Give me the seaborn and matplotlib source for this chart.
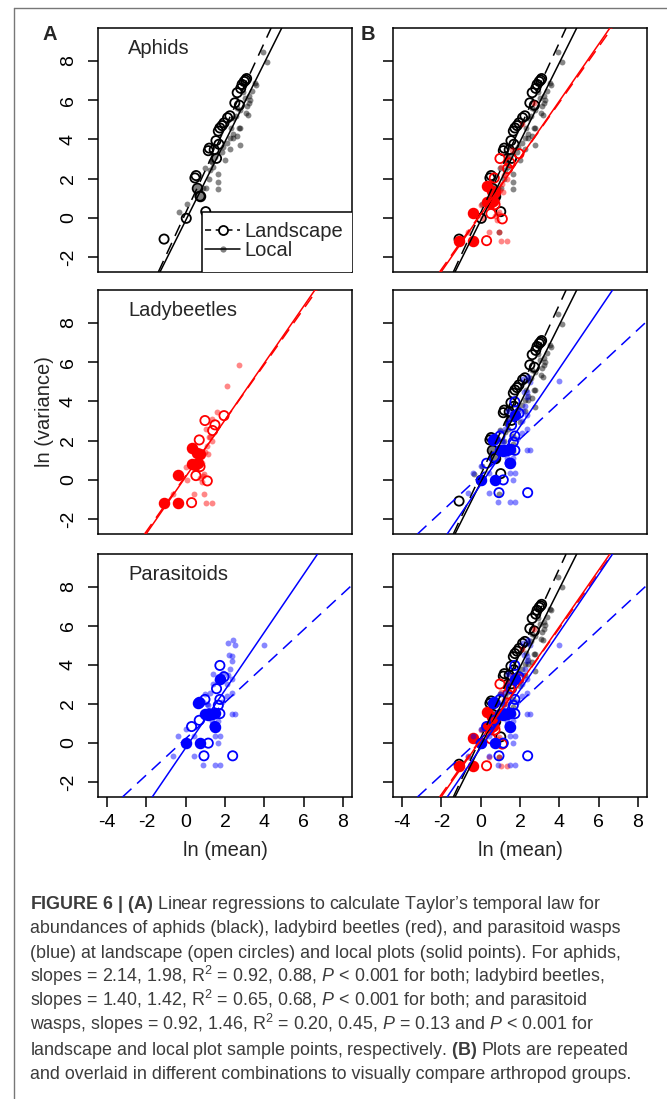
import matplotlib
matplotlib.use("Agg")
import matplotlib.pyplot as plt
from matplotlib.lines import Line2D
from matplotlib.patches import Rectangle
import seaborn as sns

# ── values (ln mean, ln variance) ────────────────────────────────────────────

# aphids: landscape (open circles), local (small dots), overlapped (filled)
aphid_land_x = [-1.10, 0.03, 0.73, 0.53, 1.02, 1.20, 1.45, 1.57, 1.54, 1.69, 1.66, 1.74,
                1.85, 1.95, 2.13, 2.25, 2.50, 2.73, 2.62, 2.80, 2.87, 2.98, 3.05, 3.10, 0.47, 1.15]
aphid_land_y = [-1.09, -0.03, 1.10, 2.15, 0.31, 3.55, 3.47, 3.03, 3.93, 3.75, 4.42, 4.58,
                4.70, 4.84, 5.10, 5.20, 5.86, 5.74, 6.38, 6.60, 6.80, 6.95, 7.02, 7.10, 2.03, 3.42]
aphid_local_x = [-0.34, 0.05, 0.90, 1.05, 0.98, 1.23, 1.32, 1.66, 1.66, 1.66, 1.90, 2.25,
                 2.76, 1.83, 1.98, 2.10, 2.25, 2.39, 2.62, 2.76, 2.30, 2.42, 2.70, 2.76,
                 2.40, 3.18, 3.07, 3.20, 3.27, 3.20, 3.57, 3.52, 3.95, 4.12, 0.93, 1.50,
                 1.30, 2.90, 2.60, 3.00, 2.55, 3.35, 3.10, 1.20, 1.40]
aphid_local_y = [0.31, 0.72, 1.50, 1.50, 2.52, 2.42, 2.86, 2.23, 1.84, 1.47, 3.60, 3.49,
                 3.71, 3.37, 2.94, 3.80, 4.05, 4.27, 4.16, 4.58, 4.60, 4.05, 4.56, 5.48,
                 5.10, 5.26, 5.33, 5.85, 6.03, 6.20, 6.79, 6.86, 8.48, 7.97, -0.71, 3.10,
                 2.90, 6.40, 5.60, 6.10, 5.20, 6.45, 5.70, 2.00, 2.60]
aphid_big_x = [0.56, 0.73]
aphid_big_y = [1.50, 1.10]

# ladybeetles
lady_land_x = [1.95, 0.98, 1.49, 1.37, 0.69, 0.52, 1.10, 0.30, 0.73]
lady_land_y = [3.27, 3.02, 2.80, 2.51, 2.03, 0.21, -0.06, -1.17, 0.67]
lady_local_x = [2.73, 2.12, 1.57, 1.32, 1.02, 1.20, 1.32, 1.07, 1.15, 0.02, 0.05, 0.73,
                0.90, -0.66, 0.42, 0.93, 1.02, 1.32, 0.81, 0.95, 0.81, 1.24, 0.56, 1.00, 0.70]
lady_local_y = [5.86, 4.79, 3.43, 3.10, 2.59, 2.20, 2.00, 1.70, 1.31, 0.64, 0.00, 0.10,
                0.19, -0.72, -0.72, -0.72, -1.17, -1.17, -0.10, 0.30, 0.87, 2.20, 1.35, 1.40, 1.00]
lady_big_x = [-1.10, -0.38, -0.38, 0.30, 0.56, 0.73, 0.30, 0.47, 0.62]
lady_big_y = [-1.17, -1.17, 0.23, 1.60, 1.35, 1.30, 0.81, 0.75, 0.85]

# parasitoids
para_land_x = [1.74, 1.95, 1.57, 0.98, 1.66, 1.74, 0.30, 0.69, 1.15, 0.93, 2.39, 1.49, 1.20, 1.74]
para_land_y = [3.97, 3.39, 2.78, 2.23, 1.93, 1.50, 0.84, 1.16, -0.01, -0.66, -0.66, 0.84, 1.50, 2.23]
para_local_x = [2.17, 2.39, 2.50, 3.98, 2.22, 2.34, 2.34, 1.40, 2.25, 2.17, 2.34, 1.40, 2.08,
                0.98, 1.23, 2.34, 0.90, 1.15, 2.34, 2.50, 1.32, 1.66, 0.02, 1.40, -0.38,
                0.42, 1.49, 1.74, 1.66, -0.66, 0.42, 0.86, 1.49, 1.74, 2.10, 1.83, 1.60,
                1.90, 1.10]
para_local_y = [5.13, 5.26, 5.00, 5.04, 4.48, 4.45, 4.20, 3.51, 3.77, 3.50, 3.30, 3.00, 3.00,
                2.49, 2.57, 2.57, 2.10, 1.93, 1.50, 1.50, 1.13, 1.13, 0.70, 0.84, 0.33,
                0.33, 0.33, 0.33, 0.00, -0.66, -0.66, -1.12, -1.12, -1.12, 2.40, 2.10, 3.20,
                3.60, 2.00]
para_big_x = [1.74, 0.69, 0.98, 1.15, 1.32, 0.73, 0.02, 1.49, 0.62, 1.50]
para_big_y = [3.30, 2.10, 1.50, 1.45, 1.50, 0.00, -0.01, 0.84, 2.05, 1.55]

# fitted Taylor's law lines (slope, intercept)
aphid_fit_land, aphid_fit_local = (2.17, 0.25), (2.01, -0.14)
lady_fit_land, lady_fit_local = (1.42, 0.20), (1.45, 0.15)
para_fit_land, para_fit_local = (0.93, 0.22), (1.48, -0.25)

panel_titles = ["Aphids", "Ladybeetles", "Parasitoids"]
x_ticks = [-4, -2, 0, 2, 4, 6, 8]
y_ticks = [-2, 0, 2, 4, 6, 8]

caption_lines = [
    r"$\mathbf{FIGURE\ 6\ |\ (A)}$ Linear regressions to calculate Taylor’s temporal law for",
    "abundances of aphids (black), ladybird beetles (red), and parasitoid wasps",
    "(blue) at landscape (open circles) and local plots (solid points). For aphids,",
    r"slopes = 2.14, 1.98, R$^2$ = 0.92, 0.88, $\mathit{P}$ < 0.001 for both; ladybird beetles,",
    r"slopes = 1.40, 1.42, R$^2$ = 0.65, 0.68, $\mathit{P}$ < 0.001 for both; and parasitoid",
    r"wasps, slopes = 0.92, 1.46, R$^2$ = 0.20, 0.45, $\mathit{P}$ = 0.13 and $\mathit{P}$ < 0.001 for",
    r"landscape and local plot sample points, respectively. $\mathbf{(B)}$ Plots are repeated",
    "and overlaid in different combinations to visually compare arthropod groups.",
]

# ── layout / style ────────────────────────────────────────────────────────────

W, H = 667, 1099
XLIM = (-4.46, 8.46)
YLIM = (-2.77, 9.68)
FS = 14.5
LW = 1.1
DASH = (0, (8, 5))

GROUPS = {
    "aphids": dict(color="black", big="#808080",
                   land=(aphid_land_x, aphid_land_y), local=(aphid_local_x, aphid_local_y),
                   over=(aphid_big_x, aphid_big_y), fits=(aphid_fit_land, aphid_fit_local)),
    "lady": dict(color="#FF0000", big="#FF0000",
                 land=(lady_land_x, lady_land_y), local=(lady_local_x, lady_local_y),
                 over=(lady_big_x, lady_big_y), fits=(lady_fit_land, lady_fit_local)),
    "para": dict(color="#0000FF", big="#0000FF",
                 land=(para_land_x, para_land_y), local=(para_local_x, para_local_y),
                 over=(para_big_x, para_big_y), fits=(para_fit_land, para_fit_local)),
}

sns.set_theme(style="ticks")
plt.rcParams["font.family"] = ["Liberation Sans", "DejaVu Sans"]
plt.rcParams["axes.unicode_minus"] = False
plt.rcParams["mathtext.fontset"] = "custom"
plt.rcParams["mathtext.rm"] = "Liberation Sans"
plt.rcParams["mathtext.it"] = "Liberation Sans:italic"
plt.rcParams["mathtext.bf"] = "Liberation Sans:bold"


def _axes(fig, left, top, right, bottom):
    return fig.add_axes([left / W, 1 - bottom / H, (right - left) / W, (bottom - top) / H])


def _style(ax, ylabels=True, xlabels=False):
    ax.set_xlim(XLIM)
    ax.set_ylim(YLIM)
    ax.set_yticks(y_ticks)
    if xlabels:
        ax.set_xticks(x_ticks)
    else:
        ax.set_xticks([])
    if not ylabels:
        ax.set_yticklabels([])
    ax.tick_params(direction="out", length=7.2, width=LW, labelsize=FS - 0.5,
                   colors="black")
    ax.tick_params(axis="y", labelrotation=90, pad=8)
    ax.tick_params(axis="x", pad=5)
    for lab in ax.get_yticklabels():
        lab.set_va("center")
    for sp in ax.spines.values():
        sp.set_linewidth(LW)
        sp.set_color("black")
    ax.set_facecolor("white")


def _draw_group(ax, key):
    g = GROUPS[key]
    c = g["color"]
    sns.scatterplot(x=g["local"][0], y=g["local"][1], color=c, alpha=0.47, s=18,
                    linewidth=0, ax=ax, zorder=2, legend=False)
    sns.scatterplot(x=g["over"][0], y=g["over"][1], color=g["big"], edgecolor=c,
                    s=50, linewidth=1.2, ax=ax, zorder=2, legend=False)
    sns.scatterplot(x=g["land"][0], y=g["land"][1], facecolors="none", edgecolor=c,
                    s=44, linewidth=1.3, ax=ax, zorder=2, legend=False)
    (m_l, b_l), (m_s, b_s) = g["fits"]
    ax.axline((0, b_l), slope=m_l, color=c, lw=LW, ls=DASH, zorder=3)
    ax.axline((0, b_s), slope=m_s, color=c, lw=LW, ls="-", zorder=3)


fig = plt.figure(figsize=(W / 100, H / 100), dpi=100)

rows = [(28, 272), (290, 534), (554, 797)]
left_col, right_col = (98, 352), (393, 647)
a_groups = ["aphids", "lady", "para"]
b_groups = [["aphids", "lady"], ["aphids", "para"], ["aphids", "lady", "para"]]

for i, (top, bottom) in enumerate(rows):
    axa = _axes(fig, left_col[0], top, left_col[1], bottom)
    _draw_group(axa, a_groups[i])
    _style(axa, ylabels=True, xlabels=(i == 2))
    axa.text(30 / 254, 1 - 26 / 244, panel_titles[i], transform=axa.transAxes,
             fontsize=FS, ha="left", va="baseline")

    axb = _axes(fig, right_col[0], top, right_col[1], bottom)
    for key in b_groups[i]:
        _draw_group(axb, key)
    _style(axb, ylabels=False, xlabels=(i == 2))

    if i == 0:
        # legend box (white, clipped at the panel bottom like the original)
        box = Rectangle(((201.7 - 98) / 254, -0.2), 1.0, 0.2 + (272 - 211.7) / 244,
                        transform=axa.transAxes, facecolor="white", edgecolor="black",
                        lw=LW, zorder=4, clip_on=True)
        axa.add_patch(box)
        handles = [
            Line2D([], [], color="black", lw=LW, ls=(0, (4, 3)), marker="o",
                   mfc="white", mec="black", ms=6.5, mew=1.3),
            Line2D([], [], color="black", lw=LW, ls="-", marker="o",
                   mfc=(0, 0, 0, 0.5), mec="none", ms=4.5),
        ]
        leg = axa.legend(handles, ["Landscape", "Local"], loc="upper left",
                         bbox_to_anchor=((205 - 98) / 254, (272 - 222) / 244),
                         frameon=False, fontsize=FS, borderpad=0, borderaxespad=0,
                         handlelength=1.75, handletextpad=0.2, labelspacing=0.02)
        leg.set_zorder(5)

fig.text(50 / W, 1 - 35 / H, "A", fontsize=FS, weight="bold", ha="center", va="center")
fig.text(368 / W, 1 - 35 / H, "B", fontsize=FS, weight="bold", ha="center", va="center")
fig.text(45 / W, 1 - 412 / H, "ln (variance)", fontsize=FS, rotation=90,
         ha="center", va="center")
fig.text(225 / W, 1 - 850 / H, "ln (mean)", fontsize=FS, ha="center", va="center")
fig.text(520 / W, 1 - 850 / H, "ln (mean)", fontsize=FS, ha="center", va="center")

# frame lines of the figure page
fig.add_artist(Line2D([14 / W, 1], [1 - 8 / H, 1 - 8 / H], transform=fig.transFigure,
                      color="#777777", lw=1))
fig.add_artist(Line2D([14 / W, 14 / W], [0, 1 - 8 / H], transform=fig.transFigure,
                      color="#777777", lw=1))

for k, line in enumerate(caption_lines):
    fig.text(30 / W, 1 - (909 + 24.3 * k) / H, line, fontsize=12.9,
             family=["Liberation Sans", "DejaVu Sans"], color="#3c3c3c",
             ha="left", va="baseline")

fig.savefig("out.png", dpi=100)
